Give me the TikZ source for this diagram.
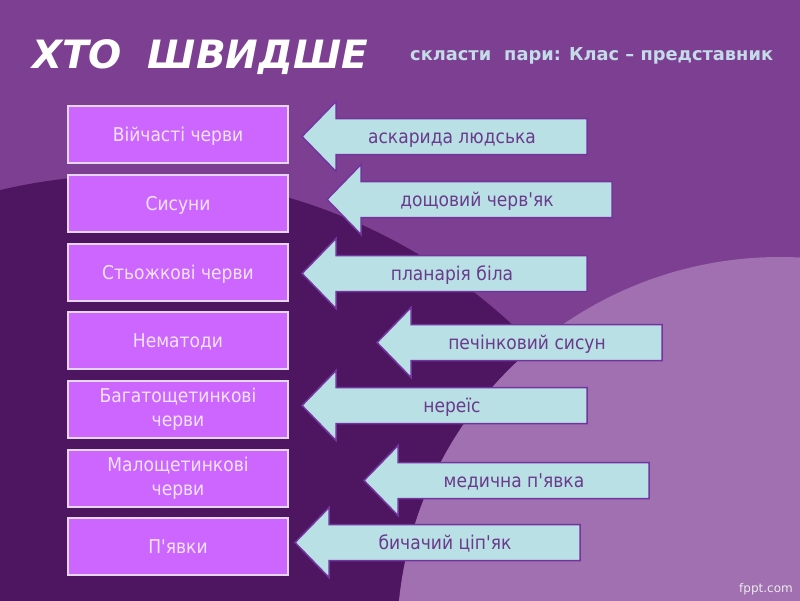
\documentclass[tikz,border=0pt]{standalone}
\usepackage{fontspec}
\setmainfont{DejaVu Sans}
\newfontfamily\bodyfont{DejaVu Sans}[FakeStretch=0.9]
\definecolor{bgmid}{HTML}{7D3F91}
\definecolor{bgdark}{HTML}{4E1660}
\definecolor{bglight}{HTML}{A070B0}
\definecolor{boxfill}{HTML}{CC66FF}
\definecolor{boxline}{HTML}{E6D6EE}
\definecolor{boxtext}{HTML}{F2E4FF}
\definecolor{arrfill}{HTML}{B9E0E4}
\definecolor{arrline}{HTML}{7434A0}
\definecolor{arrtext}{HTML}{6A3A8C}
\definecolor{subtext}{HTML}{C4DCE8}
\newcommand{\pairarrow}[4]{%
  \draw[arrbox] (#1,#2) -- ++(34,-35) -- ++(0,17) -- ++(251,0) -- ++(0,36)
    -- ++(-251,0) -- ++(0,17) -- cycle;
  \node[arrlabel] (#3) at (#1+150,#2+7) {#4};}
\begin{document}
\begin{tikzpicture}[x=1pt,y=-1pt,
  classbox/.style={draw=boxline, line width=2pt, fill=boxfill, text=boxtext,
    minimum width=220pt, minimum height=57pt, inner sep=0pt, align=center,
    font=\bodyfont\fontsize{19}{24}\selectfont},
  onebox/.style={classbox, text height=14pt, text depth=0pt},
  arrbox/.style={draw=arrline, line width=1.5pt, fill=arrfill, line join=miter},
  arrlabel/.style={anchor=base, inner sep=0pt, text=arrtext,
    font=\bodyfont\fontsize{19}{23}\selectfont},
  titletext/.style={anchor=base west, inner sep=0pt, text=white,
    font=\bfseries\itshape\fontsize{39}{44}\selectfont},
  subtitle/.style={anchor=base west, inner sep=0pt, text=subtext,
    font=\bfseries\fontsize{17.8}{20}\selectfont},
  logo/.style={anchor=base east, inner sep=0pt, text=white!92!black,
    font=\fontsize{12}{14}\selectfont}]
\useasboundingbox (0,0) rectangle (800,600);
\fill[bgmid] (0,0) rectangle (800,600);
\begin{scope}
  \clip (0,0) rectangle (800,600);
  \fill[bgdark] (130,738) circle[radius=563];
  \fill[bglight] (780,640) circle[radius=383];
\end{scope}

\node[titletext] (title) at (32,68) {ХТО\hskip 26pt ШВИДШЕ};
\node[subtitle] (sub) at (410,60) {скласти\hskip 13pt пари: Клас – представник};

\node[onebox] (c1) at (178,134.5) {Війчасті черви};
\node[onebox] (c2) at (178,203) {Сисуни};
\node[onebox] (c3) at (178,272) {Стьожкові черви};
\node[onebox] (c4) at (178,340.5) {Нематоди};
\node[classbox] (c5) at (178,409.5) {Багатощетинкові\\черви};
\node[classbox] (c6) at (178,478) {Малощетинкові\\черви};
\node[onebox] (c7) at (178,546.5) {П'явки};

\pairarrow{302}{136.5}{a1}{аскарида людська}
\pairarrow{327}{199.5}{a2}{дощовий черв'як}
\pairarrow{302}{273.5}{a3}{планарія біла}
\pairarrow{377}{342.5}{a4}{печінковий сисун}
\pairarrow{302}{405.5}{a5}{нереїс}
\pairarrow{364}{480.5}{a6}{медична п'явка}
\pairarrow{295}{542.5}{a7}{бичачий ціп'як}

\node[logo] (logo) at (793,592) {fppt.com};
\end{tikzpicture}
\end{document}
